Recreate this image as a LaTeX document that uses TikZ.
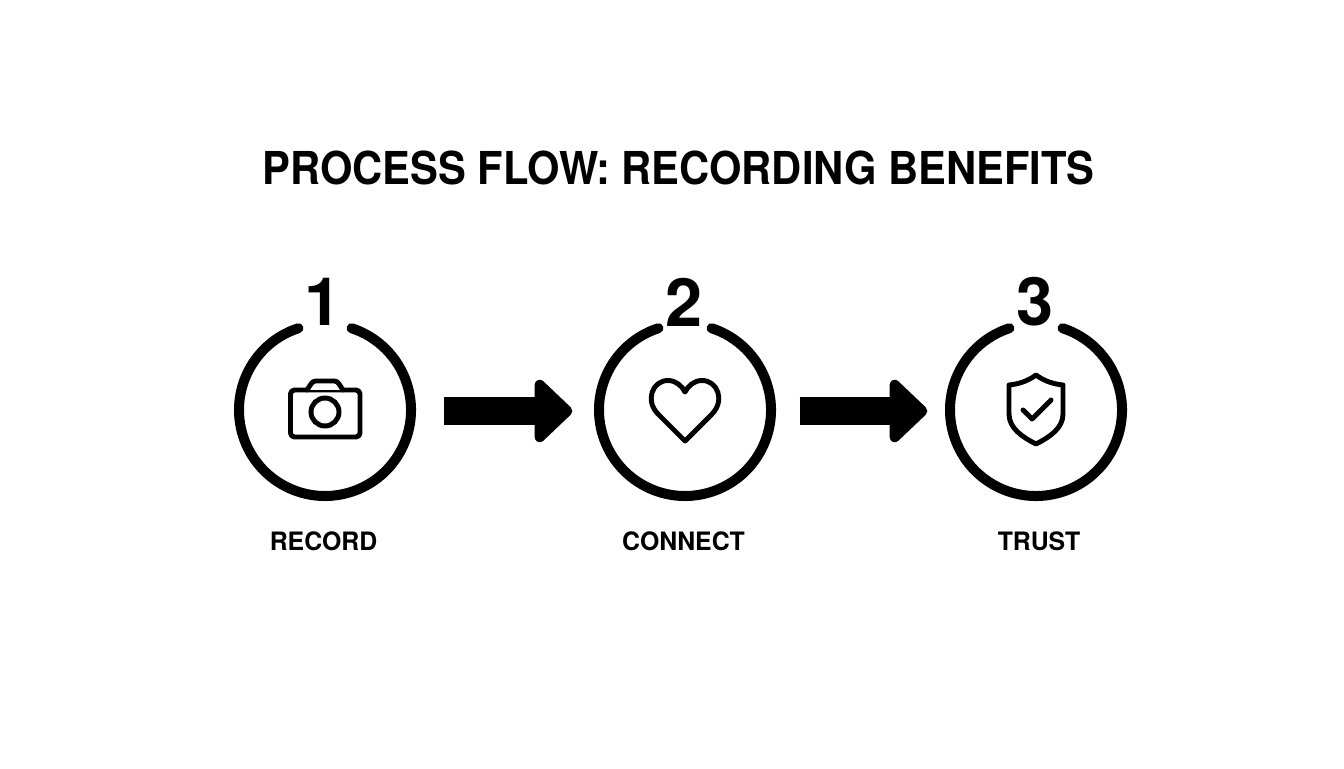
\documentclass[tikz,border=0pt]{standalone}
\usepackage{fontspec}
\setmainfont{TeX Gyre Heros}
\newfontfamily\titlefont[FakeStretch=0.92]{TeX Gyre Heros}
\newfontfamily\labelfont[FakeStretch=0.98]{TeX Gyre Heros}
\usetikzlibrary{arrows.meta}
\tikzset{
  ring/.style={circle,minimum size=129pt,inner sep=0pt,outer sep=0pt},
  ringline/.style={line width=7.5pt,line cap=round},
  iconline/.style={line width=3.7pt,line join=round,line cap=round},
  fatarrow/.style={line width=21.5pt,-{Triangle[width=55pt,length=30pt,line width=8pt,round]}},
  stepnum/.style={font=\fontsize{50}{50}\selectfont\bfseries},
  steplabel/.style={font=\labelfont\fontsize{19}{19}\selectfont\bfseries},
  heading/.style={font=\titlefont\fontsize{34}{34}\selectfont\bfseries}
}
\begin{document}
\begin{tikzpicture}[x=0.75pt,y=0.75pt]
  \useasboundingbox (0,0) rectangle (1344,768);
  \node[heading] (title) at (678.5,600) {PROCESS FLOW: RECORDING BENEFITS};
  \node[ring] (ring1) at (325,358) {};
  \node[ring] (ring2) at (685,358) {};
  \node[ring] (ring3) at (1036,358) {};
  \node[stepnum] (num1) at (323,466) {1};
  \node[stepnum] (num2) at (684,466) {2};
  \node[stepnum] (num3) at (1035,466) {3};
  \node[steplabel] (label1) at (323.5,227) {RECORD};
  \node[steplabel] (label2) at (683.5,227) {CONNECT};
  \node[steplabel] (label3) at (1039,227) {TRUST};
  \draw[ringline] (ring1.108) arc[start angle=108,end angle=432,radius=64.5pt];
  \draw[ringline] (ring2.108) arc[start angle=108,end angle=432,radius=64.5pt];
  \draw[ringline] (ring3.108) arc[start angle=108,end angle=432,radius=64.5pt];
  \draw[fatarrow,shorten <=24.5pt,shorten >=20pt] ([yshift=-0.75pt]ring1.east) -- ([yshift=-0.75pt]ring2.west);
  \draw[fatarrow,shorten <=21.5pt,shorten >=17pt] ([yshift=-0.75pt]ring2.east) -- ([yshift=-0.75pt]ring3.west);
  % camera
  \begin{scope}[shift={(ring1.center)}]
    \draw[iconline,rounded corners=3pt] (-34.5,-27) rectangle (35,20);
    \draw[iconline,fill=white,rounded corners=2pt] (-18,20) -- (-12,29) -- (12,29) -- (18,20);
    \draw[line width=3.7pt] (0,-2) circle (14);
  \end{scope}
  % heart
  \begin{scope}[shift={(ring2.center)}]
    \draw[iconline] (0,-31) -- (-27,-4) .. controls (-40,9) and (-33,29.5) .. (-17,29.5)
      .. controls (-9,29.5) and (-3,24) .. (0,18)
      .. controls (3,24) and (9,29.5) .. (17,29.5)
      .. controls (33,29.5) and (40,9) .. (27,-4) -- cycle;
  \end{scope}
  % shield
  \begin{scope}[shift={(ring3.center)}]
    \draw[iconline] (0,35) .. controls (-8,29) and (-17,26) .. (-27,25) -- (-27,-4)
      .. controls (-27,-18) and (-14,-27) .. (0,-34)
      .. controls (14,-27) and (27,-18) .. (27,-4) -- (27,25)
      .. controls (17,26) and (8,29) .. (0,35) -- cycle;
    \draw[iconline] (-13,0) -- (-4,-9) -- (15,10);
  \end{scope}
\end{tikzpicture}
\end{document}
